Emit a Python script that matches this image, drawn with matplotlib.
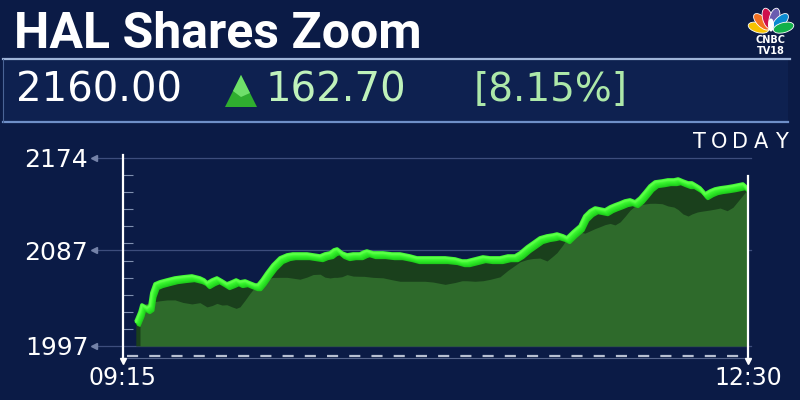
import numpy as np
import matplotlib
matplotlib.use("Agg")
import matplotlib.pyplot as plt
from matplotlib.patches import Rectangle, Polygon, Ellipse
from matplotlib.transforms import offset_copy
from matplotlib.ticker import FixedLocator

# minutes after 09:15 and traded price
minutes_since_open = [4, 5.3, 5.9, 7.5, 8.4, 9.0, 10.0, 11.5, 13.7, 16.2,
                      18.7, 21.5, 24.0, 25.3, 26.2, 27.8, 29.3, 30.9, 32.4, 34.0,
                      35.3, 36.5, 38.1, 39.6, 41.2, 42.1, 43.4, 44.9, 46.8, 49.0,
                      51.2, 53.0, 55.2, 57.4, 59.3, 61.5, 63.0, 64.6, 65.8, 66.8,
                      68.3, 69.9, 71.8, 73.9, 75.2, 76.1, 78.0, 81.1, 83.9, 86.4,
                      89.5, 91.7, 94.2, 96.7, 100.5, 103.6, 105.8, 107.3, 109.8, 112.3,
                      114.5, 117.6, 120.1, 122.3, 123.9, 126.1, 127.9, 130.1, 132.3, 134.2,
                      135.4, 137.3, 138.5, 140.4, 142.6, 144.1, 145.7, 147.3, 148.8, 150.4,
                      152.0, 153.5, 155.1, 156.6, 158.2, 159.8, 161.3, 162.9, 164.4, 166.0,
                      168.2, 170.0, 171.9, 173.2, 174.7, 176.3, 177.5, 179.1, 180.0, 181.6,
                      183.2, 184.7, 186.3, 188.5, 190.3, 191.9, 193.4, 194.1, 195.0]
prices = [2019.6, 2029.0, 2035.6, 2032.8, 2034.7, 2046.9, 2055.4, 2057.3, 2059.1, 2061.0,
          2062.0, 2062.9, 2061.0, 2059.1, 2056.3, 2059.1, 2061.0, 2058.2, 2055.4, 2057.3,
          2059.1, 2057.3, 2058.2, 2056.3, 2054.4, 2054.4, 2059.1, 2065.7, 2073.3, 2079.9,
          2082.7, 2083.6, 2083.6, 2083.6, 2082.7, 2081.7, 2083.6, 2084.6, 2087.4, 2088.3,
          2084.6, 2082.7, 2083.6, 2083.6, 2085.5, 2086.4, 2084.6, 2084.6, 2083.6, 2083.6,
          2081.7, 2079.9, 2079.9, 2079.9, 2079.9, 2078.9, 2077.0, 2077.0, 2078.9, 2080.8,
          2079.9, 2079.9, 2081.7, 2081.7, 2084.6, 2090.2, 2094.0, 2098.7, 2100.6, 2101.5,
          2102.4, 2100.6, 2098.7, 2104.3, 2110.0, 2119.4, 2124.1, 2126.9, 2126.0, 2125.0,
          2127.9, 2129.8, 2131.6, 2133.5, 2134.5, 2132.6, 2136.3, 2142.0, 2147.6, 2151.4,
          2152.3, 2153.3, 2153.3, 2154.2, 2152.3, 2150.5, 2150.5, 2147.6, 2145.8, 2140.1,
          2142.9, 2144.8, 2145.8, 2146.7, 2147.6, 2148.6, 2149.5, 2147.6, 2144.8]

y_levels = [1997, 2087, 2174]
x_ticks = [0, 195]
x_labels = ["09:15", "12:30"]

title = "HAL Shares Zoom"
last_price = "2160.00"
change = "162.70"
change_pct = "[8.15%]"

BG = "#0b1b46"
t = np.array(minutes_since_open)
p = np.array(prices)

fig = plt.figure(figsize=(8, 4), dpi=100, facecolor=BG)

# full-figure layer for the TV graphic furniture (pixel coordinates)
bg = fig.add_axes([0, 0, 1, 1])
bg.set_xlim(0, 800)
bg.set_ylim(400, 0)
bg.axis("off")
bg.set_facecolor(BG)

bg.add_patch(Rectangle((3, 59), 785, 63, facecolor="#0e2150", edgecolor="none"))
bg.plot([3, 790], [59, 59], color="#9fb4d8", lw=1.6)
bg.plot([3, 788], [122, 122], color="#6f8fc8", lw=1.6)
bg.plot([3, 3], [59, 122], color="#4a6496", lw=0.8)

bg.text(14, 35, title, color="white", fontsize=36, fontweight="bold",
        family="Roboto", va="center", ha="left")
bg.text(16, 91, last_price, color="white", fontsize=29, va="center", ha="left")
bg.add_patch(Polygon([(225, 107), (241, 75), (257, 107)], closed=True,
                     facecolor="#2fae2f", edgecolor="none"))
bg.add_patch(Polygon([(233, 91), (241, 75), (250, 93), (241, 97)], closed=True,
                     facecolor="#6fe06a", edgecolor="none"))
bg.text(266, 91, change, color="#bff2bb", fontsize=29, va="center", ha="left")
bg.text(474, 90, change_pct, color="#ade8a9", fontsize=28, va="center", ha="left")

for i, ch in enumerate("TODAY"):
    bg.text(699 + i * 20.5, 142, ch, color="white", fontsize=15,
            ha="center", va="center")

# CNBC peacock
feather_cols = ["#f6c200", "#f37021", "#d0104c", "#6a5cb0", "#0a8ad0", "#12b04a"]
cx, cy = 771, 31
for k, col in enumerate(feather_cols):
    ang = np.deg2rad(165 - k * 30)
    ex, ey = cx + 13 * np.cos(ang), cy - 13 * np.sin(ang)
    bg.add_patch(Ellipse((ex, ey), 21, 10, angle=-np.rad2deg(ang),
                         facecolor=col, edgecolor="white", lw=0.6))
bg.add_patch(Ellipse((cx, cy - 6), 6, 13, facecolor="white", edgecolor="none"))
bg.text(771, 40, "CNBC", color="white", fontsize=7, fontweight="bold",
        ha="center", va="center")
bg.text(771, 51, "TV18", color="white", fontsize=7, fontweight="bold",
        ha="center", va="center")

# chart
ax = fig.add_axes([123 / 800, 38 / 400, 625 / 800, 212 / 400])
ax.set_facecolor("none")
ax.set_xlim(0, 195)
ax.set_ylim(1981.9, 2181.5)
for s in ["top", "right", "bottom"]:
    ax.spines[s].set_visible(False)
ax.spines["left"].set_color("white")
ax.spines["left"].set_linewidth(1.6)
ax.spines["left"].set_bounds(1983.5, 2177)

ax.set_yticks(y_levels)
ax.set_yticklabels([str(v) for v in y_levels])
ax.yaxis.set_minor_locator(FixedLocator(np.linspace(1997, 2174, 12)))
ax.tick_params(axis="y", which="major", length=0, pad=25, labelsize=18,
               labelcolor="white")
ax.tick_params(axis="y", which="minor", direction="in", length=7,
               color="#8090b0", width=0.8)
ax.set_xticks(x_ticks)
ax.set_xticklabels(x_labels)
ax.tick_params(axis="x", length=0, pad=3, labelsize=17, labelcolor="white")

for v in y_levels:
    ax.plot([-9, 196], [v, v], color="#3d4d7c", lw=0.9, clip_on=False, zorder=1)
    ax.plot(-9, v, marker="<", ms=4.5, color="#7482a8", clip_on=False, zorder=1)

# 3D-looking area: dark side band, lighter front face, bright ribbon on top
base = 1997
ax.fill_between(t, p, base, color="#1a401c", lw=0, zorder=2)
dv = 22 * np.clip((195 - t) / 6, 0, 1)
front = np.interp(t + 6, t, p) - dv
ax.fill_between(t, front, base, where=t >= 5.3, color="#2e6a2b", lw=0, zorder=3)

ribbon_cols = ["#1fcc1c", "#25da20", "#2ce626", "#35f02c", "#44fb36"]
for k, col in enumerate(ribbon_cols):
    off = offset_copy(ax.transData, fig=fig, x=(4 - k) * 0.7,
                      y=-(4 - k) * 1.1, units="dots")
    ax.plot(t, p, color=col, lw=2.6, transform=off, zorder=4,
            solid_capstyle="butt", solid_joinstyle="round")
ax.plot(t, p, color="#5cff48", lw=1.2, zorder=5, solid_joinstyle="round")

# right edge and base line
ax.plot([195, 195], [1983.5, 2157], color="white", lw=1.6, clip_on=False, zorder=6)
ax.plot([1.2, 194], [1988, 1988], color="#b8c0d2", lw=1.6,
        linestyle=(0, (5, 5)), clip_on=False, zorder=6)
ax.plot([0, 195], [1985.5, 1985.5], color="#55648c", lw=0.8, clip_on=False, zorder=6)
ax.plot(x_ticks, [1983, 1983], linestyle="none", marker="v", ms=4,
        color="white", clip_on=False, zorder=7)

fig.savefig("out.png", dpi=100, facecolor=BG)
